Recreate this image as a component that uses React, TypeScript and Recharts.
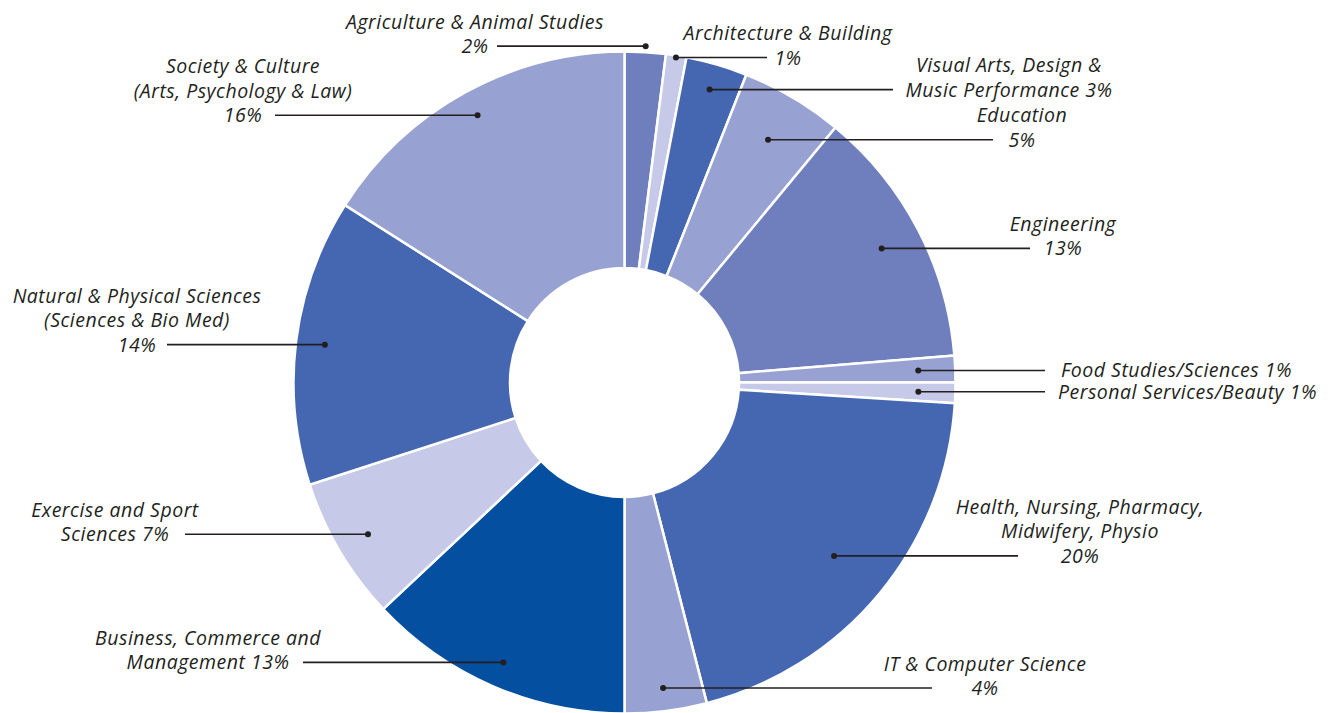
import React from 'react';
import { PieChart, Pie, Cell } from 'recharts';

const categories = [
  'Agriculture & Animal Studies',
  'Architecture & Building',
  'Visual Arts, Design & Music Performance',
  'Education',
  'Engineering',
  'Food Studies/Sciences',
  'Personal Services/Beauty',
  'Health, Nursing, Pharmacy, Midwifery, Physio',
  'IT & Computer Science',
  'Business, Commerce and Management',
  'Exercise and Sport Sciences',
  'Natural & Physical Sciences (Sciences & Bio Med)',
  'Society & Culture (Arts, Psychology & Law)',
];

const shares = [2, 1, 3, 5, 12.7, 1.3, 1, 20, 4, 13, 7, 14, 16];

// how each label is broken into lines; {p} is replaced by the percentage
const labelLines = [
  ['Agriculture & Animal Studies', '{p}'],
  ['Architecture & Building', '{p}'],
  ['Visual Arts, Design &', 'Music Performance {p}'],
  ['Education', '{p}'],
  ['Engineering', '{p}'],
  ['Food Studies/Sciences {p}'],
  ['Personal Services/Beauty {p}'],
  ['Health, Nursing, Pharmacy,', 'Midwifery, Physio', '{p}'],
  ['IT & Computer Science', '{p}'],
  ['Business, Commerce and', 'Management {p}'],
  ['Exercise and Sport', 'Sciences {p}'],
  ['Natural & Physical Sciences', '(Sciences & Bio Med)', '{p}'],
  ['Society & Culture', '(Arts, Psychology & Law)', '{p}'],
];

const LIGHT = '#c6c9e7';
const SOFT = '#97a2d2';
const MID = '#6f7fbe';
const STRONG = '#4566b0';
const DEEP = '#054fa1';

const sliceColors = [MID, LIGHT, STRONG, SOFT, MID, SOFT, LIGHT, STRONG, SOFT, DEEP, LIGHT, STRONG, SOFT];

// label placement: radius of the marker dot, x of the text, x where the leader line stops
const labelLayout = [
  { dotR: 337, textX: 475, lineEnd: 497, anchor: 'middle' },
  { dotR: 329, textX: 788, lineEnd: 767, anchor: 'middle' },
  { dotR: 305, textX: 1009, lineEnd: 893, anchor: 'middle' },
  { dotR: 282, textX: 1022, lineEnd: 993, anchor: 'middle' },
  { dotR: 290, textX: 1063, lineEnd: 1030, anchor: 'middle' },
  { dotR: 294, textX: 1061, lineEnd: 1045, anchor: 'start' },
  { dotR: 294, textX: 1058, lineEnd: 1045, anchor: 'start' },
  { dotR: 272, textX: 1080, lineEnd: 1018, anchor: 'middle' },
  { dotR: 308, textX: 985, lineEnd: 932, anchor: 'middle' },
  { dotR: 305, textX: 208, lineEnd: 303, anchor: 'middle' },
  { dotR: 298, textX: 115, lineEnd: 185, anchor: 'middle' },
  { dotR: 302, textX: 137, lineEnd: 167, anchor: 'middle' },
  { dotR: 305, textX: 243, lineEnd: 275, anchor: 'middle' },
];

const data = categories.map((name, i) => ({ name, value: shares[i] }));

const WIDTH = 1344;
const HEIGHT = 713;
const CX = 624.5;
const CY = 382.5;
const INK = '#231f20';
const LINE_GAP = 24.5;

const renderLabel = (props: any) => {
  const { index, midAngle } = props;
  const cx = Number(props.cx ?? CX);
  const cy = Number(props.cy ?? CY);
  const layout = labelLayout[index];
  const rad = (midAngle * Math.PI) / 180;
  const dx = cx + layout.dotR * Math.cos(rad);
  const dy = cy - layout.dotR * Math.sin(rad);
  const pct = `${Math.round(shares[index])}%`;
  const lines = labelLines[index].map(l => l.replace('{p}', pct));
  const baseY = dy + 7 - (lines.length - 1) * LINE_GAP;

  return (
    <g key={`lbl-${index}`}>
      <line x1={dx} y1={dy} x2={layout.lineEnd} y2={dy} stroke={INK} strokeWidth={1.6} />
      <circle cx={dx} cy={dy} r={3} fill={INK} />
      <text
        x={layout.textX}
        y={baseY}
        textAnchor={layout.anchor}
        fill={INK}
        fontFamily="'Open Sans', Lato, sans-serif"
        fontStyle="italic"
        fontWeight={400}
        fontSize={19.5}
        letterSpacing={0.5}
      >
        {lines.map((line, i) => (
          <tspan key={i} x={layout.textX} dy={i === 0 ? 0 : LINE_GAP}>
            {line}
          </tspan>
        ))}
      </text>
    </g>
  );
};

export default function App() {
  return (
    <div style={{ position: 'absolute', left: 0, top: 0, width: WIDTH, height: HEIGHT, background: '#fff' }}>
      <PieChart width={WIDTH} height={HEIGHT} margin={{ top: 0, right: 0, bottom: 0, left: 0 }}>
        <Pie
          data={data}
          dataKey="value"
          nameKey="name"
          cx={CX}
          cy={CY}
          innerRadius={114.5}
          outerRadius={331}
          startAngle={90}
          endAngle={-270}
          stroke="#ffffff"
          strokeWidth={2.5}
          label={renderLabel}
          labelLine={false}
          isAnimationActive={false}
        >
          {data.map((d, i) => (
            <Cell key={d.name} fill={sliceColors[i]} />
          ))}
        </Pie>
      </PieChart>
    </div>
  );
}
